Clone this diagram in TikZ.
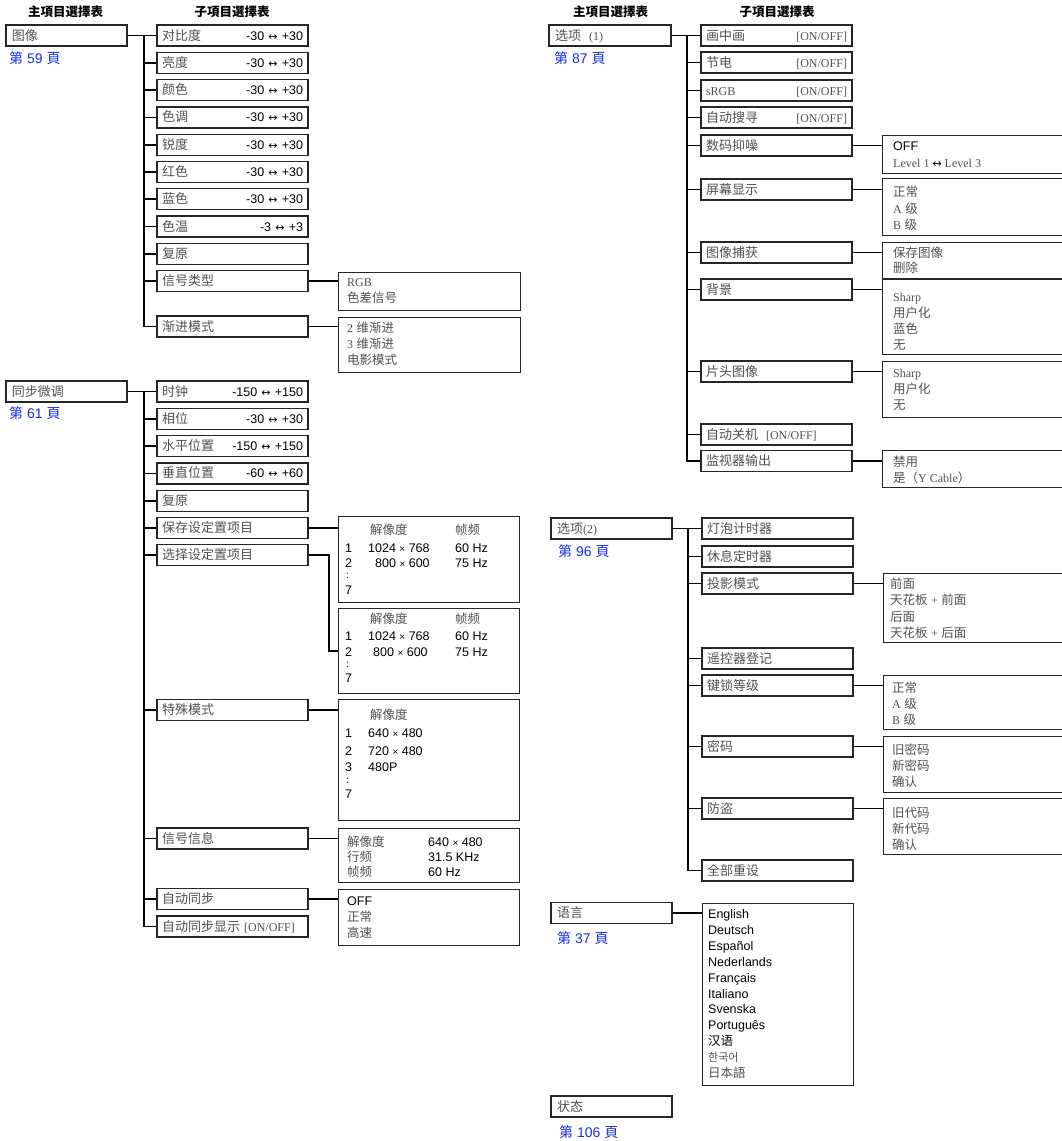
\documentclass[tikz,border=0pt]{standalone}
\usepackage{fontspec}
\setmainfont{Liberation Sans}
\newfontfamily\cjk{Noto Sans CJK SC}
\newfontfamily\tm{Liberation Serif}
\newfontfamily\dv{DejaVu Sans}
\usetikzlibrary{calc}
\definecolor{lbl}{RGB}{80,80,80}
\definecolor{pgblue}{RGB}{25,45,235}
\newcommand\zh[1]{{\cjk #1}}
\newcommand\se[1]{{\tm\fontsize{12}{15}\selectfont #1}}
\newcommand\lrar{{\dv\fontsize{11}{13}\selectfont ↔}}
\newcommand\vl[1]{\textcolor{black}{#1}}
\newcommand\lst[1]{\begin{tabular}[t]{@{}l@{}}#1\end{tabular}}
\newcommand\xx{{\fontsize{10}{12}\selectfont ×}}
\newcommand\zl[1]{{\cjk\fontsize{13}{15}\selectfont #1}}
\begin{document}
\begin{tikzpicture}[x=1pt,y=-1pt,
  bx/.style={draw=black!85, line width=1.3pt, inner xsep=6pt, inner ysep=0pt,
    minimum height=21pt, text height=11pt, text depth=2pt, align=left,
    text=lbl, font=\fontsize{12.5}{15}\selectfont},
  mainbx/.style={bx, text width=109pt},
  subbx/.style={bx, inner xsep=5pt, text width=141pt},
  valbx/.style={draw=black!85, line width=1.3pt, inner sep=0pt, anchor=north west},
  conn/.style={line width=1.7pt, black},
  txt/.style={inner sep=0pt, anchor=base west, text=lbl, font=\fontsize{12.5}{16}\selectfont},
  blk/.style={txt, text=black},
  pg/.style={inner sep=0pt, anchor=base west, text=pgblue, font=\fontsize{14}{16}\selectfont},
  hd/.style={inner sep=0pt, anchor=base, font=\fontsize{12.5}{15}\selectfont\cjk\bfseries},
]
\useasboundingbox (0,0) rectangle (1062,1141);
\clip (0,0) rectangle (1062,1141);

% headers
\node[hd] (h1) at (65.5,16.5) {主項目選擇表};
\node[hd] (h2) at (232,16.5) {子項目選擇表};
\node[hd] (h3) at (610.5,16.5) {主項目選擇表};
\node[hd] (h4) at (777,16.5) {子項目選擇表};

% ---------------- group 1 : 图像
\node[mainbx] (m1) at (66.5,35.5) {\zl{图像}};
\node[pg] (p1) at (9,63) {\zh{第} 59 \zh{頁}};
\node[subbx] (a1) at (232.5,35.5) {\zl{对比度}\hfill\vl{-30 \lrar{} +30}};
\node[subbx] (a2) at (232.5,62.8) {\zl{亮度}\hfill\vl{-30 \lrar{} +30}};
\node[subbx] (a3) at (232.5,90.1) {\zl{颜色}\hfill\vl{-30 \lrar{} +30}};
\node[subbx] (a4) at (232.5,117.4) {\zl{色调}\hfill\vl{-30 \lrar{} +30}};
\node[subbx] (a5) at (232.5,144.7) {\zl{锐度}\hfill\vl{-30 \lrar{} +30}};
\node[subbx] (a6) at (232.5,172) {\zl{红色}\hfill\vl{-30 \lrar{} +30}};
\node[subbx] (a7) at (232.5,199.3) {\zl{蓝色}\hfill\vl{-30 \lrar{} +30}};
\node[subbx] (a8) at (232.5,226.6) {\zl{色温}\hfill\vl{-3 \lrar{} +3}};
\node[subbx] (a9) at (232.5,253.9) {\zl{复原}};
\node[subbx] (a10) at (232.5,281.2) {\zl{信号类型}};
\node[subbx] (a11) at (232.5,326.5) {\zl{渐进模式}};
\foreach \s in {a1,a2,a3,a4,a5,a6,a7,a8,a9,a10,a11}
  \draw[conn] (m1.east) -- ++(16,0) |- (\s.west);
\node[valbx, minimum width=182pt, minimum height=38pt] (v1) at (338,272) {};
\node[txt] (v1t) at (347,286.5) {\lst{\se{RGB}\\ \zh{色差信号}}};
\node[valbx, minimum width=182pt, minimum height=55pt] (v2) at (338,317) {};
\node[txt] (v2t) at (347,332.5) {\lst{\se{2} \zh{维渐进}\\ \se{3} \zh{维渐进}\\ \zh{电影模式}}};
\draw[conn] (a10.east) -- (a10.east -| v1.west);
\draw[conn] (a11.east) -- (a11.east -| v2.west);

% ---------------- group 2 : 同步微调
\node[mainbx] (m2) at (66.5,391.5) {\zl{同步微调}};
\node[pg] (p2) at (9,418) {\zh{第} 61 \zh{頁}};
\node[subbx] (b1) at (232.5,391.5) {\zl{时钟}\hfill\vl{-150 \lrar{} +150}};
\node[subbx] (b2) at (232.5,418.8) {\zl{相位}\hfill\vl{-30 \lrar{} +30}};
\node[subbx] (b3) at (232.5,446.1) {\zl{水平位置}\hfill\vl{-150 \lrar{} +150}};
\node[subbx] (b4) at (232.5,473.4) {\zl{垂直位置}\hfill\vl{-60 \lrar{} +60}};
\node[subbx] (b5) at (232.5,500.7) {\zl{复原}};
\node[subbx] (b6) at (232.5,528) {\zl{保存设定置项目}};
\node[subbx] (b7) at (232.5,555.3) {\zl{选择设定置项目}};
\node[subbx] (b8) at (232.5,710) {\zl{特殊模式}};
\node[subbx] (b9) at (232.5,838.5) {\zl{信号信息}};
\node[subbx] (b10) at (232.5,899) {\zl{自动同步}};
\node[subbx] (b11) at (232.5,926.5) {\zl{自动同步显示} \se{[ON/OFF]}};
\foreach \s in {b1,b2,b3,b4,b5,b6,b7,b8,b9,b10,b11}
  \draw[conn] (m2.east) -- ++(16,0) |- (\s.west);

\node[valbx, minimum width=181pt, minimum height=86pt] (w1) at (338,516) {};
\node[valbx, minimum width=181pt, minimum height=85pt] (w2) at (338,608) {};
\node[valbx, minimum width=181pt, minimum height=121pt] (w3) at (338,699) {};
\node[valbx, minimum width=181pt, minimum height=54pt] (w4) at (338,828) {};
\node[valbx, minimum width=181pt, minimum height=56pt] (w5) at (338,889) {};
\draw[conn] (b6.east) -- (b6.east -| w1.west);
\draw[conn] (b7.east) -- ++(20,0) |- (w2.west);
\draw[conn] (b8.east) -- (b8.east -| w3.west);
\draw[conn] (b9.east) -- (b9.east -| w4.west);
\draw[conn] (b10.east) -- (b10.east -| w5.west);

% w1
\node[txt] (w1a) at (370,534.5) {\zh{解像度}};
\node[txt] (w1b) at (455,534.5) {\zh{帧频}};
\node[blk] (w1c) at (345,552.5) {1};
\node[blk] (w1d) at (368,552.5) {1024 \xx{} 768};
\node[blk] (w1e) at (455,552.5) {60 Hz};
\node[blk] (w1f) at (345,567.5) {2};
\node[blk] (w1g) at (375,567.5) {800 \xx{} 600};
\node[blk] (w1h) at (455,567.5) {75 Hz};
\node[blk, font=\fontsize{10}{12}\selectfont] (w1i) at (346,578.5) {:};
\node[blk] (w1j) at (345,594.5) {7};
% w2
\node[txt] (w2a) at (370,623.5) {\zh{解像度}};
\node[txt] (w2b) at (455,623.5) {\zh{帧频}};
\node[blk] (w2c) at (345,640.5) {1};
\node[blk] (w2d) at (368,640.5) {1024 \xx{} 768};
\node[blk] (w2e) at (455,640.5) {60 Hz};
\node[blk] (w2f) at (345,656.5) {2};
\node[blk] (w2g) at (373,656.5) {800 \xx{} 600};
\node[blk] (w2h) at (455,656.5) {75 Hz};
\node[blk, font=\fontsize{10}{12}\selectfont] (w2i) at (346,667.5) {:};
\node[blk] (w2j) at (345,682.5) {7};
% w3
\node[txt] (w3a) at (370,719.5) {\zh{解像度}};
\node[blk] (w3b) at (345,737.5) {1};
\node[blk] (w3c) at (368,737.5) {640 \xx{} 480};
\node[blk] (w3d) at (345,755.5) {2};
\node[blk] (w3e) at (368,755.5) {720 \xx{} 480};
\node[blk] (w3f) at (345,771.5) {3};
\node[blk] (w3g) at (368,771.5) {480P};
\node[blk, font=\fontsize{10}{12}\selectfont] (w3h) at (346,783.5) {:};
\node[blk] (w3i) at (345,798.5) {7};
% w4
\node[txt] (w4a) at (347,846.5) {\zh{解像度}};
\node[blk] (w4b) at (428,846.5) {640 \xx{} 480};
\node[txt] (w4c) at (347,861.5) {\zh{行频}};
\node[blk] (w4d) at (428,861.5) {31.5 KHz};
\node[txt] (w4e) at (347,876.5) {\zh{帧频}};
\node[blk] (w4f) at (428,876.5) {60 Hz};
% w5
\node[txt] (w5t) at (347,905.5) {\lst{\vl{OFF}\\ \zh{正常}\\ \zh{高速}}};

% ---------------- group 3 : 选项 (1)
\node[mainbx, text width=110pt] (m3) at (610,35.5) {\zl{选项}\hspace{8pt}\se{(1)}};
\node[pg] (p3) at (554,63) {\zh{第} 87 \zh{頁}};
\node[subbx] (c1) at (776.5,35.5) {\zl{画中画}\hfill\se{[ON/OFF]}\hspace{7pt}};
\node[subbx] (c2) at (776.5,62.5) {\zl{节电}\hfill\se{[ON/OFF]}\hspace{7pt}};
\node[subbx] (c3) at (776.5,90.5) {\se{sRGB}\hfill\se{[ON/OFF]}\hspace{7pt}};
\node[subbx] (c4) at (776.5,117.5) {\zl{自动搜寻}\hfill\se{[ON/OFF]}\hspace{7pt}};
\node[subbx] (c5) at (776.5,145.5) {\zl{数码抑噪}};
\node[subbx] (c6) at (776.5,189.5) {\zl{屏幕显示}};
\node[subbx] (c7) at (776.5,252.5) {\zl{图像捕获}};
\node[subbx] (c8) at (776.5,289.5) {\zl{背景}};
\node[subbx] (c9) at (776.5,371.5) {\zl{片头图像}};
\node[subbx] (c10) at (776.5,434.5) {\zl{自动关机}\hspace{8pt}\se{[ON/OFF]}};
\node[subbx] (c11) at (776.5,461) {\zl{监视器输出}};
\foreach \s in {c1,c2,c3,c4,c5,c6,c7,c8,c9,c10,c11}
  \draw[conn] (m3.east) -- ++(15,0) |- (\s.west);

\node[valbx, minimum width=200pt, minimum height=38pt] (x1) at (882,135) {};
\node[valbx, minimum width=200pt, minimum height=57pt] (x2) at (882,178) {};
\node[valbx, minimum width=200pt, minimum height=36pt] (x3) at (882,242) {};
\node[valbx, minimum width=200pt, minimum height=75pt] (x4) at (882,279) {};
\node[valbx, minimum width=200pt, minimum height=56pt] (x5) at (882,361) {};
\node[valbx, minimum width=200pt, minimum height=37pt] (x6) at (882,450) {};
\draw[conn] (c5.east) -- (c5.east -| x1.west);
\draw[conn] (c6.east) -- (c6.east -| x2.west);
\draw[conn] (c7.east) -- (c7.east -| x3.west);
\draw[conn] (c8.east) -- (c8.east -| x4.west);
\draw[conn] (c9.east) -- (c9.east -| x5.west);
\draw[conn] (c11.east) -- (c11.east -| x6.west);
\node[txt] (x1t) at (893,150.5) {\lst{\vl{OFF}\\[1pt] \se{Level 1 \vl{\lrar} Level 3}}};
\node[txt] (x2t) at (893,196.5) {\lst{\zh{正常}\\[0.5pt] \se{A} \zh{级}\\[0.5pt] \se{B} \zh{级}}};
\node[txt] (x3t) at (893,257.5) {\lst{\zh{保存图像}\\[-1pt] \zh{删除}}};
\node[txt] (x4t) at (893,301.5) {\lst{\se{Sharp}\\ \zh{用户化}\\ \zh{蓝色}\\ \zh{无}}};
\node[txt] (x5t) at (893,377.5) {\lst{\se{Sharp}\\ \zh{用户化}\\ \zh{无}}};
\node[txt] (x6t) at (893,466.5) {\lst{\zh{禁用}\\ \zh{是（}\se{Y Cable}\zh{）}}};

% ---------------- group 4 : 选项(2)
\node[mainbx] (m4) at (611.5,528.5) {\zl{选项}\se{(2)}};
\node[pg] (p4) at (558,556) {\zh{第} 96 \zh{頁}};
\node[subbx] (d1) at (777.5,528.5) {\zl{灯泡计时器}};
\node[subbx] (d2) at (777.5,556.5) {\zl{休息定时器}};
\node[subbx] (d3) at (777.5,583.5) {\zl{投影模式}};
\node[subbx] (d4) at (777.5,658.5) {\zl{遥控器登记}};
\node[subbx] (d5) at (777.5,685.5) {\zl{键锁等级}};
\node[subbx] (d6) at (777.5,746.5) {\zl{密码}};
\node[subbx] (d7) at (777.5,808.5) {\zl{防盗}};
\node[subbx] (d8) at (777.5,870.5) {\zl{全部重设}};
\foreach \s in {d1,d2,d3,d4,d5,d6,d7,d8}
  \draw[conn] (m4.east) -- ++(15,0) |- (\s.west);

\node[valbx, minimum width=200pt, minimum height=69pt] (y1) at (883,573) {};
\node[valbx, minimum width=200pt, minimum height=54pt] (y2) at (883,675) {};
\node[valbx, minimum width=200pt, minimum height=56pt] (y3) at (883,736) {};
\node[valbx, minimum width=200pt, minimum height=56pt] (y4) at (883,798) {};
\draw[conn] (d3.east) -- (d3.east -| y1.west);
\draw[conn] (d5.east) -- (d5.east -| y2.west);
\draw[conn] (d6.east) -- (d6.east -| y3.west);
\draw[conn] (d7.east) -- (d7.east -| y4.west);
\node[txt] (y1t) at (890,588.5) {\lst{\zh{前面}\\[0.3pt] \zh{天花板} \se{+} \zh{前面}\\[0.3pt] \zh{后面}\\[0.3pt] \zh{天花板} \se{+} \zh{后面}}};
\node[txt] (y2t) at (892,692.5) {\lst{\zh{正常}\\ \se{A} \zh{级}\\ \se{B} \zh{级}}};
\node[txt] (y3t) at (892,754.5) {\lst{\zh{旧密码}\\ \zh{新密码}\\ \zh{确认}}};
\node[txt] (y4t) at (892,817.5) {\lst{\zh{旧代码}\\ \zh{新代码}\\ \zh{确认}}};

% ---------------- group 5 : 语言
\node[mainbx] (m5) at (611.5,913) {\zl{语言}};
\node[pg] (p5) at (557,943) {\zh{第} 37 \zh{頁}};
\node[valbx, minimum width=151pt, minimum height=182pt] (L) at (702,903) {};
\draw[conn] (m5.east) -- (m5.east -| L.west);
\node[blk, font=\fontsize{12.5}{15.9}\selectfont] (Lt) at (708,918.5) {\lst{English\\ Deutsch\\ Español\\ Nederlands\\ Français\\ Italiano\\ Svenska\\ Português\\ \zh{汉语}\\ \textcolor{lbl}{\cjk\fontsize{11}{13}\selectfont 한국어}\\ \textcolor{lbl}{\zh{日本語}}}};

% ---------------- group 6 : 状态
\node[mainbx] (m6) at (611.5,1106.5) {\zl{状态}};
\node[pg] (p6) at (559,1137) {\zh{第} 106 \zh{頁}};
\end{tikzpicture}
\end{document}
